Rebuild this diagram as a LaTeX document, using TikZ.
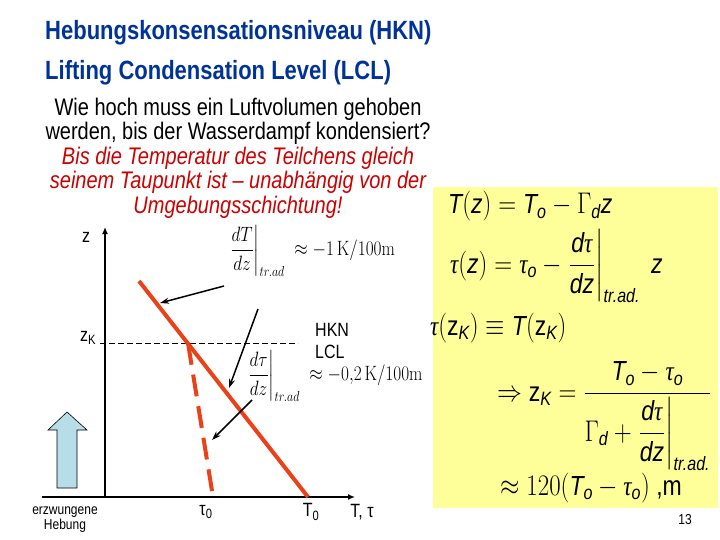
\documentclass[tikz,border=0pt]{standalone}
\usepackage{amsmath}
\usepackage[no-math]{fontspec}
\setmainfont{Liberation Sans}
\newfontfamily\tms{Liberation Serif}
\usetikzlibrary{arrows.meta,positioning}

\definecolor{titleblue}{RGB}{0,51,153}
\definecolor{textred}{RGB}{204,0,0}
\definecolor{linered}{RGB}{235,65,25}
\definecolor{boxyellow}{RGB}{255,255,153}
\definecolor{liftblue}{RGB}{183,221,232}

% italic sans variables and the serif tau of the slide
\newcommand{\vi}[1]{\text{\itshape #1}}
\newcommand{\ta}{\text{\tms\itshape τ}}

\begin{document}
\begin{tikzpicture}[x=1pt, y=-1pt, >={Stealth[length=9pt,width=6pt]},
    every node/.append style={yscale=1.2, inner sep=0pt},
    lbl/.style={font=\fontsize{16}{19}\selectfont},
    eqn/.style={anchor=base west, font=\fontsize{23}{27}\selectfont},
    grad/.style={anchor=west, font=\fontsize{17}{20}\selectfont},
    redline/.style={draw=linered, line width=4pt},
    axis/.style={line width=1.8pt, -{Latex[length=7pt,width=6pt]}},
    pointer/.style={line width=1.5pt, ->}]
\useasboundingbox (0,0) rectangle (720,540);
\fill[boxyellow] (433,187) rectangle (718,508);

% title and question
\node[anchor=west, align=left, text=titleblue,
  font=\bfseries\fontsize{22}{33.3}\selectfont] (title) at (45,53)
  {Hebungskonsensationsniveau (HKN)\\Lifting Condensation Level (LCL)};
\node[align=center, font=\fontsize{20}{20.4}\selectfont] (question) at (238,158)
  {Wie hoch muss ein Luftvolumen gehoben\\
   werden, bis der Wasserdampf kondensiert?\\
   \color{textred}\itshape Bis die Temperatur des Teilchens gleich\\
   \color{textred}\itshape seinem Taupunkt ist -- unabhängig von der\\
   \color{textred}\itshape Umgebungsschichtung!};

% axes
\coordinate (origin) at (105,497);
\coordinate (ztip) at (105,227);
\coordinate (tstart) at (42,497);
\coordinate (ttip) at (355,497);
\draw[axis] (origin) -- (ztip);
\draw[axis] (tstart) -- (ttip);
\node[lbl] (zlab) at (86,237) {z};
\node[lbl] (zklab) at (88,338) {z\textsubscript{K}};
\node[lbl] (taulab) at (206,512) {τ\textsubscript{0}};
\node[lbl] (Tlab) at (311,512) {T\textsubscript{0}};
\node[lbl] (axlab) at (362,512) {T, τ};

% profiles
\coordinate (start) at (139,281);
\coordinate (kink) at (188,343);
\coordinate (Tzero) at (308,497);
\coordinate (tauzero) at (213,497);
\coordinate (hknleft) at (100,343);
\coordinate (hknright) at (298,343);
\draw[dash pattern=on 6pt off 3pt, line width=0.8pt] (hknleft) -- (hknright);
\draw[redline] (start) -- (Tzero);
\draw[redline, dash pattern=on 22pt off 10pt] (kink) -- (tauzero);

\node[lbl, anchor=west, align=left] (hkn) at (315,341) {HKN\\LCL};

% gradients
\node[grad] (gradT) at (229,251)
  {$\left.\dfrac{dT}{dz}\right|_{tr.ad}\;\approx -1\,\mathrm{K/100m}$};
\node[grad] (gradtau) at (247,376)
  {$\left.\dfrac{d\tau}{dz}\right|_{tr.ad}\;\approx -0{,}2\,\mathrm{K/100m}$};
\coordinate (p1s) at (224,286);
\coordinate (p1e) at (160,303);
\coordinate (p2s) at (258,309);
\coordinate (p2e) at (229,388);
\coordinate (p3s) at (252,400);
\coordinate (p3e) at (212,440);
\draw[pointer] (p1s) -- (p1e);
\draw[pointer] (p2s) -- (p2e);
\draw[pointer] (p3s) -- (p3e);

% forced lifting
\filldraw[fill=liftblue, draw=black, line width=0.6pt]
  (57,488) -- (57,430) -- (48,430) -- (67,412) -- (87,430) -- (77,430) -- (77,488) -- cycle;
\node[align=center, font=\fontsize{12}{12.5}\selectfont] (lift) at (65,520)
  {erzwungene\\Hebung};

% equations
\node[eqn] (eqT) at (448,214)
  {$\vi{T}(\vi{z}) = \vi{T}_{\vi{o}} - \Gamma_{\vi{d}}\vi{z}$};
\node[eqn] (eqtau) at (450,273)
  {$\ta(\vi{z}) = \ta_{\vi{o}} - \left.\dfrac{\vi{d}\ta}{\vi{dz}}\right|_{\vi{tr.ad.}}\;\vi{z}$};
\node[eqn] (eqeq) at (430,335)
  {$\ta(\text{z}_{\vi{K}}) \equiv \vi{T}(\text{z}_{\vi{K}})$};
\node[eqn] (eqzk) at (497,401)
  {$\Rightarrow \text{z}_{\vi{K}} = \dfrac{\vi{T}_{\vi{o}} - \ta_{\vi{o}}}
   {\Gamma_{\vi{d}} + \left.\dfrac{\vi{d}\ta}{\vi{dz}}\right|_{\vi{tr.ad.}}}$};
\node[eqn] (eqnum) at (500,495)
  {$\approx 120(\vi{T}_{\vi{o}} - \ta_{\vi{o}})$ ,m};

\node[font=\fontsize{12}{14}\selectfont] (page) at (685,520) {13};
\end{tikzpicture}
\end{document}
